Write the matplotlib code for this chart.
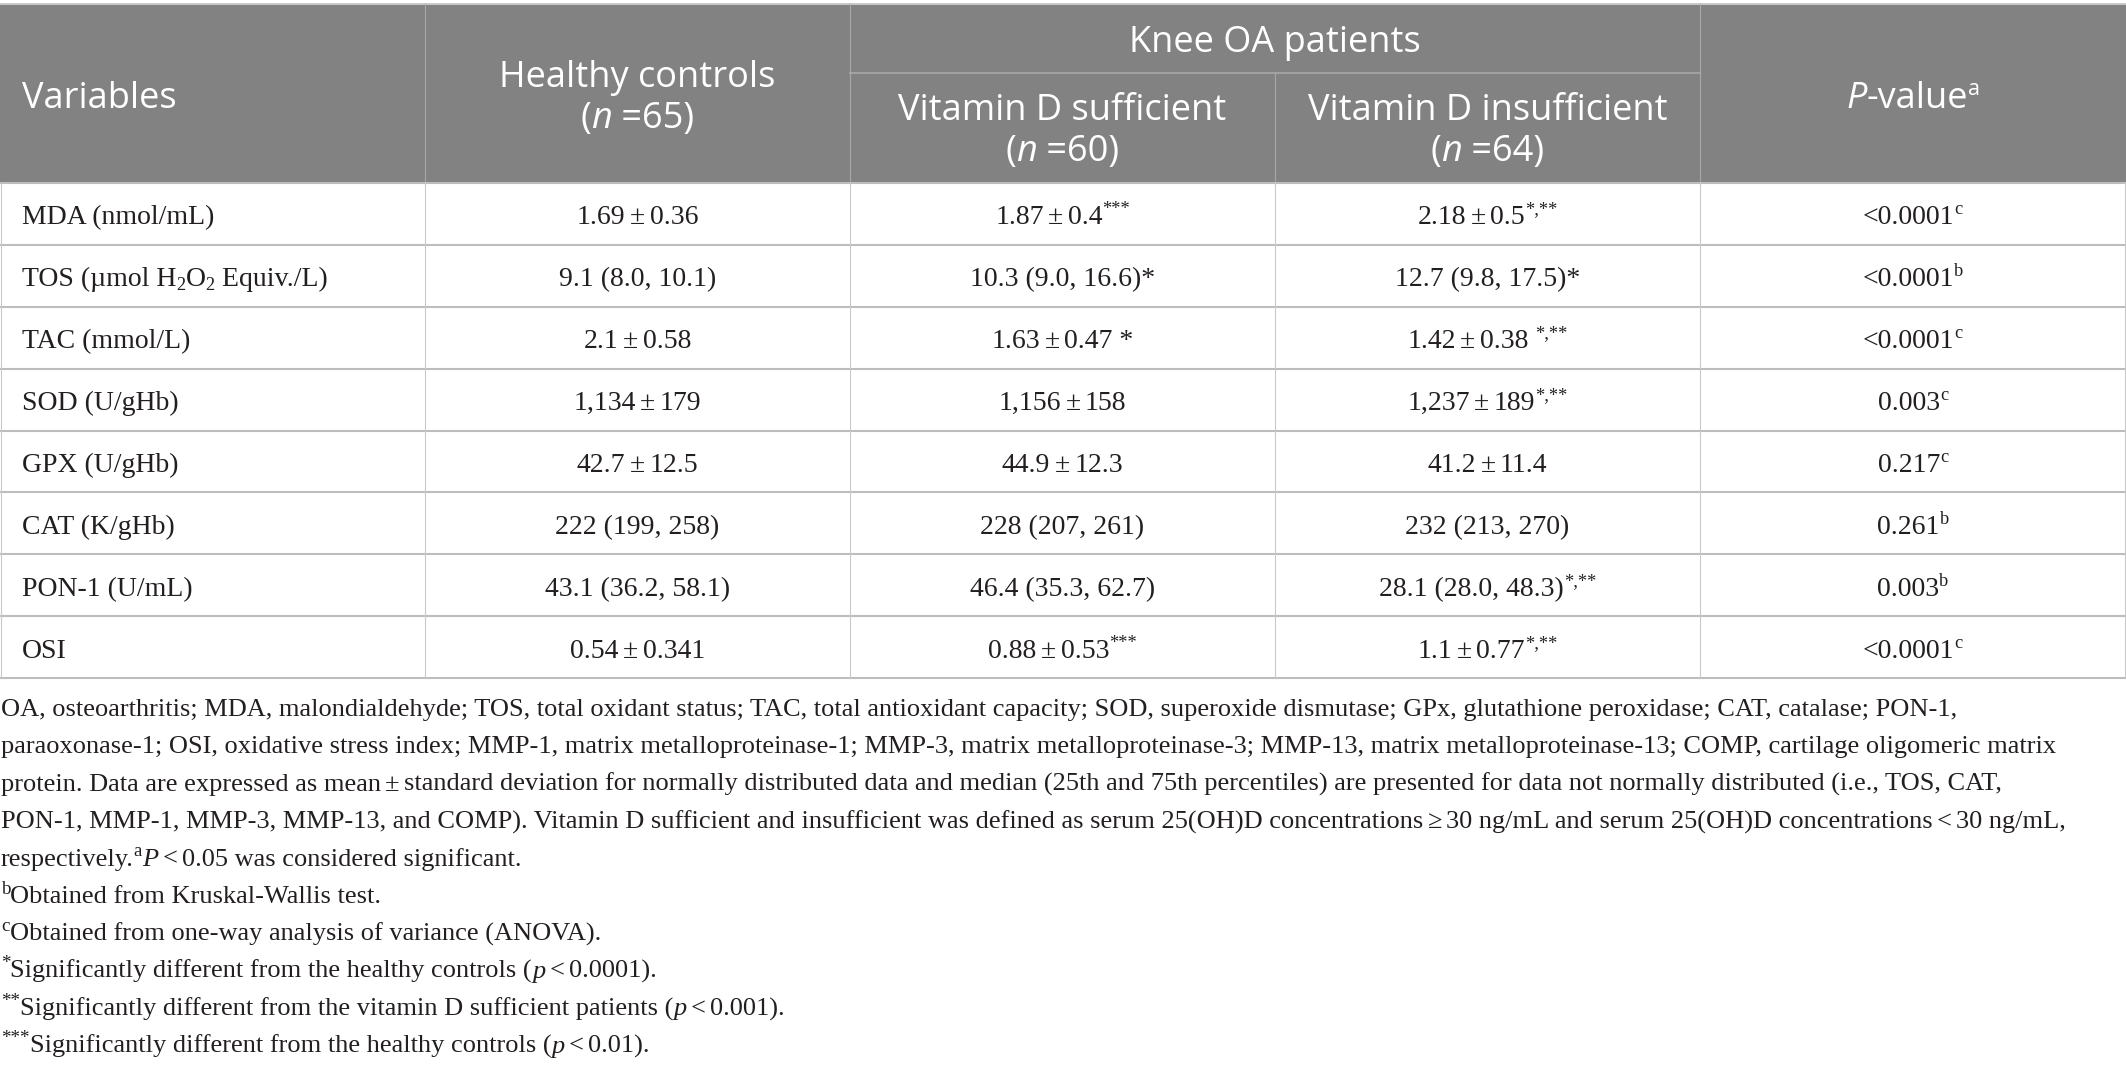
import re
import matplotlib
matplotlib.use("Agg")
import matplotlib.pyplot as plt
from matplotlib.patches import Rectangle

W, H, DPI = 2126, 1070, 100

# ---------------- data ----------------
variables = ["MDA (nmol/mL)", "TOS (µmol H_[2]O_[2] Equiv./L)", "TAC (mmol/L)",
             "SOD (U/gHb)", "GPX (U/gHb)", "CAT (K/gHb)", "PON-1 (U/mL)", "OSI"]
healthy = ["1.69 ± 0.36", "9.1 (8.0, 10.1)", "2.1 ± 0.58", "1,134 ± 179",
           "42.7 ± 12.5", "222 (199, 258)", "43.1 (36.2, 58.1)", "0.54 ± 0.341"]
vitd_sufficient = ["1.87 ± 0.4^[***]", "10.3 (9.0, 16.6)*", "1.63 ± 0.47 *",
                   "1,156 ± 158", "44.9 ± 12.3", "228 (207, 261)",
                   "46.4 (35.3, 62.7)", "0.88 ± 0.53^[***]"]
vitd_insufficient = ["2.18 ± 0.5^[*,**]", "12.7 (9.8, 17.5)*", "1.42 ± 0.38 ^[*,**]",
                     "1,237 ± 189^[*,**]", "41.2 ± 11.4", "232 (213, 270)",
                     "28.1 (28.0, 48.3)^[*,**]", "1.1 ± 0.77^[*,**]"]
p_values = ["<0.0001^[c]", "<0.0001^[b]", "<0.0001^[c]", "0.003^[c]",
            "0.217^[c]", "0.261^[b]", "0.003^[b]", "<0.0001^[c]"]

header_variables = "Variables"
header_healthy = ["Healthy controls", "(~[n] =65)"]
header_group = "Knee OA patients"
header_suff = ["Vitamin D sufficient", "(~[n] =60)"]
header_insuff = ["Vitamin D insufficient", "(~[n] =64)"]
header_p = "~[P]-value^[a]"

footnotes = [
    "OA, osteoarthritis; MDA, malondialdehyde; TOS, total oxidant status; TAC, total antioxidant capacity; SOD, superoxide dismutase; GPx, glutathione peroxidase; CAT, catalase; PON-1,",
    "paraoxonase-1; OSI, oxidative stress index; MMP-1, matrix metalloproteinase-1; MMP-3, matrix metalloproteinase-3; MMP-13, matrix metalloproteinase-13; COMP, cartilage oligomeric matrix",
    "protein. Data are expressed as mean ± standard deviation for normally distributed data and median (25th and 75th percentiles) are presented for data not normally distributed (i.e., TOS, CAT,",
    "PON-1, MMP-1, MMP-3, MMP-13, and COMP). Vitamin D sufficient and insufficient was defined as serum 25(OH)D concentrations ≥ 30 ng/mL and serum 25(OH)D concentrations < 30 ng/mL,",
    "respectively.^[a]~[P] < 0.05 was considered significant.",
    "^[b]Obtained from Kruskal-Wallis test.",
    "^[c]Obtained from one-way analysis of variance (ANOVA).",
    "^[*]Significantly different from the healthy controls (~[p] < 0.0001).",
    "^[**]Significantly different from the vitamin D sufficient patients (~[p] < 0.001).",
    "^[***]Significantly different from the healthy controls (~[p] < 0.01).",
]

# ---------------- style ----------------
SERIF = "Liberation Serif"
SANS = "Open Sans"
HEAD_WEIGHT = "normal"
HEADER_BG = "#818281"
HEADER_LINE = "#a8a8a8"
GRID = "#c9c9c9"
ROWLINE = "#bdbdbd"
TEXT = "#231f20"
BODY_SIZE = 20.0
HEAD_SIZE = 26.0

fig = plt.figure(figsize=(W / DPI, H / DPI), dpi=DPI)
ax = fig.add_axes([0, 0, 1, 1])
ax.set_xlim(0, W)
ax.set_ylim(H, 0)
ax.axis("off")
renderer = fig.canvas.get_renderer()

TOKEN = re.compile(r'(\^\[[^\]]*\]|_\[[^\]]*\]|~\[[^\]]*\]|\u2009)')


def parse(s):
    s = s.replace(" ± ", "\u2009±\u2009").replace(" < ", "\u2009<\u2009").replace(" ≥ ", "\u2009≥\u2009")
    segs = []
    for part in TOKEN.split(s):
        if not part:
            continue
        if part == "\u2009":
            segs.append(("gap", ""))
        elif part.startswith("^["):
            segs.append(("sup", part[2:-1]))
        elif part.startswith("_["):
            segs.append(("sub", part[2:-1]))
        elif part.startswith("~["):
            segs.append(("ital", part[2:-1]))
        else:
            segs.append(("norm", part))
    return segs


_cache = {}


def advance(txt, family, size, style, weight):
    kw = dict(fontfamily=family, fontsize=size, fontstyle=style, fontweight=weight)
    key = (family, size, style, weight)
    if key not in _cache:
        t2 = ax.text(0, 0, "||", **kw)
        _cache[key] = t2.get_window_extent(renderer).width
        t2.remove()
    t1 = ax.text(0, 0, "|" + txt + "|", **kw)
    w = t1.get_window_extent(renderer).width - _cache[key]
    t1.remove()
    return w


def rich(x, y, s, family, size, color, weight="normal", ha="left", draw=True, sup_scale=0.66):
    em = size * DPI / 72.0
    pieces = []
    for kind, txt in parse(s):
        if kind == "gap":
            pieces.append((None, em * 0.16))
            continue
        sz = size * sup_scale if kind in ("sup", "sub") else size
        style = "italic" if kind == "ital" else "normal"
        dy = -0.36 * em if kind == "sup" else (0.13 * em if kind == "sub" else 0.0)
        w = advance(txt, family, sz, style, weight)
        pieces.append(((txt, sz, style, dy), w))
    total = sum(w for _, w in pieces)
    if not draw:
        return total
    x0 = x - total / 2 if ha == "center" else (x - total if ha == "right" else x)
    for p, w in pieces:
        if p is not None:
            txt, sz, style, dy = p
            ax.text(x0, y + dy, txt, fontfamily=family, fontsize=sz, fontstyle=style,
                    fontweight=weight, color=color, ha="left", va="baseline")
        x0 += w
    return total


# ---------------- geometry ----------------
col_edges = [0, 425, 850, 1275, 1700, W]
col_centers = [(a + b) / 2 for a, b in zip(col_edges[:-1], col_edges[1:])]
head_top, head_mid, head_bot = 4, 73, 183
body_bot = 678
n_rows = len(variables)
row_h = (body_bot - head_bot) / n_rows

# header background
ax.add_patch(Rectangle((0, head_top), W, head_bot - head_top, facecolor=HEADER_BG,
                       edgecolor="none", zorder=0))
ax.plot([0, W], [head_top, head_top], color=GRID, lw=1.4, zorder=1)
for x in [425, 850, 1700]:
    ax.plot([x, x], [head_top, head_bot], color=HEADER_LINE, lw=0.8, zorder=1)
ax.plot([1275, 1275], [head_mid, head_bot], color=HEADER_LINE, lw=0.8, zorder=1)
ax.plot([850, 1700], [head_mid, head_mid], color=HEADER_LINE, lw=1.2, zorder=1)

# body grid
for i in range(n_rows + 1):
    y = head_bot + i * row_h
    ax.plot([0, W], [y, y], color=ROWLINE, lw=1.5, zorder=1)
for x in [0.6, 425, 850, 1275, 1700, W - 0.6]:
    ax.plot([x, x], [head_bot, body_bot], color=GRID, lw=0.8, zorder=1)

# header text
WHITE = "white"
hk = dict(weight=HEAD_WEIGHT, sup_scale=0.6)
rich(22, 108, header_variables, SANS, HEAD_SIZE, WHITE, **hk)
rich(col_centers[1], 87, header_healthy[0], SANS, HEAD_SIZE, WHITE, ha="center", **hk)
rich(col_centers[1], 128, header_healthy[1], SANS, HEAD_SIZE, WHITE, ha="center", **hk)
rich(1275, 52, header_group, SANS, HEAD_SIZE, WHITE, ha="center", **hk)
rich(col_centers[2], 120, header_suff[0], SANS, HEAD_SIZE, WHITE, ha="center", **hk)
rich(col_centers[2], 161, header_suff[1], SANS, HEAD_SIZE, WHITE, ha="center", **hk)
rich(col_centers[3], 120, header_insuff[0], SANS, HEAD_SIZE, WHITE, ha="center", **hk)
rich(col_centers[3], 161, header_insuff[1], SANS, HEAD_SIZE, WHITE, ha="center", **hk)
rich(col_centers[4], 108, header_p, SANS, HEAD_SIZE, WHITE, ha="center", **hk)

# body text
for i in range(n_rows):
    yb = head_bot + i * row_h + 41.5
    rich(22, yb, variables[i], SERIF, BODY_SIZE, TEXT)
    for j, col in enumerate([healthy, vitd_sufficient, vitd_insufficient, p_values]):
        rich(col_centers[j + 1], yb, col[i], SERIF, BODY_SIZE, TEXT, ha="center")

# footnotes (size fitted to the wrapped line width)
ref_size = 17.0
w_ref = rich(0, 0, footnotes[1], SERIF, ref_size, TEXT, draw=False)
fn_size = max(15.0, min(19.0, ref_size * 2080.0 / w_ref))
fn_y0, fn_dy = 716, 37.4
for k, line in enumerate(footnotes):
    rich(1, fn_y0 + k * fn_dy, line, SERIF, fn_size, TEXT, sup_scale=0.72)

fig.savefig("out.png", dpi=DPI, facecolor="white")
